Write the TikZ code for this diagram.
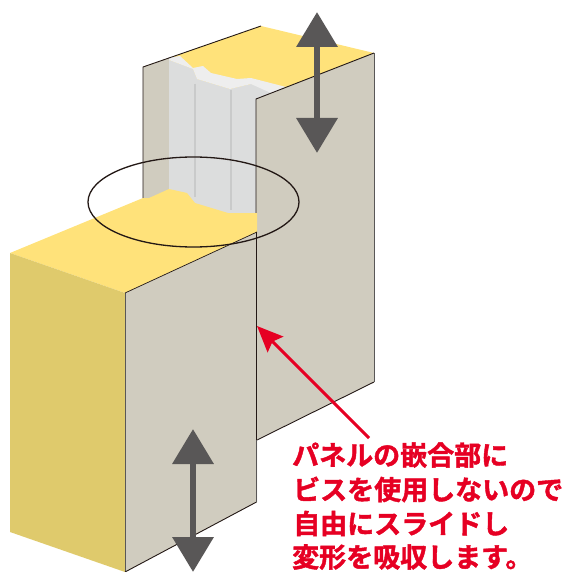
\documentclass[tikz,border=0pt]{standalone}
\usepackage{fontspec}
\newfontfamily\cjk{Noto Sans CJK JP}[BoldFont={* Bold},BoldFeatures={FakeBold=1.6}]
\usetikzlibrary{arrows.meta,shapes.geometric}
\definecolor{yel}{HTML}{FFE27A}
\definecolor{yeld}{HTML}{DFCA6C}
\definecolor{pan}{HTML}{D0CCBF}
\definecolor{lgt}{HTML}{DCDDDD}
\definecolor{lgs}{HTML}{EEEEEE}
\definecolor{gry}{HTML}{595757}
\definecolor{rib}{HTML}{C9CACA}
\definecolor{ink}{HTML}{231815}
\definecolor{red2}{HTML}{E60023}
\tikzset{
  edge/.style={draw=ink,line width=0.9pt},
  move/.style={gry,line width=6.8pt,{Triangle[width=40pt,length=35pt]}-{Triangle[width=40pt,length=35pt]},shorten <=0pt,shorten >=0pt},
  note/.style={anchor=west,inner sep=0pt,text=red2,font=\cjk\bfseries\fontsize{27}{27}\selectfont}
}
\begin{document}
\begin{tikzpicture}[x=1pt,y=-1pt]
\useasboundingbox (0,0) rectangle (567,572);
% back panel
\fill[yel] (143,67) -- (261,26) -- (374,53) -- (256,99) -- (256,120) -- (143,120) -- cycle;
\fill[pan] (143,67) -- (169,58) -- (169,200) -- (143,200) -- cycle;
\fill[lgt] (169,60) -- (193,69) -- (197,79) -- (230,89) -- (251,84) -- (285,92) -- (257,100) -- (257,215) -- (169,215) -- cycle;
\fill[lgs] (169,57.5) -- (180,56) -- (193,68) -- (203,66) -- (211,73) -- (237,79) -- (251,78) -- (286,87) -- (271,93) -- (251,84) -- (230,89) -- (197,79) -- (193,69) -- (169,60) -- cycle;
\draw[rib,line width=1.2pt] (195,84) -- (195,197);
\draw[rib,line width=1.2pt] (231,90) -- (231,210);
\fill[pan] (256,99) -- (374,53) -- (374,382) -- (256,440) -- cycle;
\draw[edge] (143,198) -- (143,67) -- (261,26);
\draw[edge] (256,232) -- (256,99) -- (374,53);
\draw[draw=gry,line width=0.8pt] (374,53) -- (374,382);
\draw[edge] (374,382) -- (257,440);
% front panel
\fill[yel] (10,253) -- (143,198) -- (149,198) -- (169,189) -- (187,193) -- (195,203) -- (228,213) -- (257,213) -- (257,232) -- (125,293) -- cycle;
\fill[yeld] (10,253) -- (125,293) -- (125,572) -- (10,532) -- cycle;
\fill[pan] (125,293) -- (257,232) -- (257,502) -- (125,572) -- cycle;
\draw[draw=gry,line width=0.8pt] (125,293) -- (125,572);
\draw[edge,line width=0.7pt] (125,293) -- (257,232);
\draw[edge] (125,572) -- (256.5,502);
\draw[draw=gry,line width=0.8pt] (256.5,440) -- (256.5,502);
\draw[edge,line width=1.8pt] (256.5,232) -- (256.5,440);
% ellipse
\node[draw=ink,line width=1.3pt,shape=ellipse,minimum width=211pt,minimum height=90pt,inner sep=0pt] (ring) at (193.5,202) {};
% arrows
\coordinate (upT) at (317,12); \coordinate (upB) at (317,153);
\draw[move] (upT) -- (upB);
\coordinate (loT) at (193,429); \coordinate (loB) at (193,572);
\draw[move] (loT) -- (loB);
% note
\node[note] (n1) at (292,455) {パネルの嵌合部に};
\node[note] (n2) at (293,489.5) {ビスを使用しないので};
\node[note] (n3) at (293,523.5) {自由にスライドし};
\node[note] (n4) at (292,557) {変形を吸収します。};
\coordinate (tipR) at (257,326); \coordinate (tailR) at (369,438);
\draw[red2,line width=3pt,-{Stealth[length=26pt,width=22pt,inset=4pt]}] (tailR) -- (tipR);
\end{tikzpicture}
\end{document}
